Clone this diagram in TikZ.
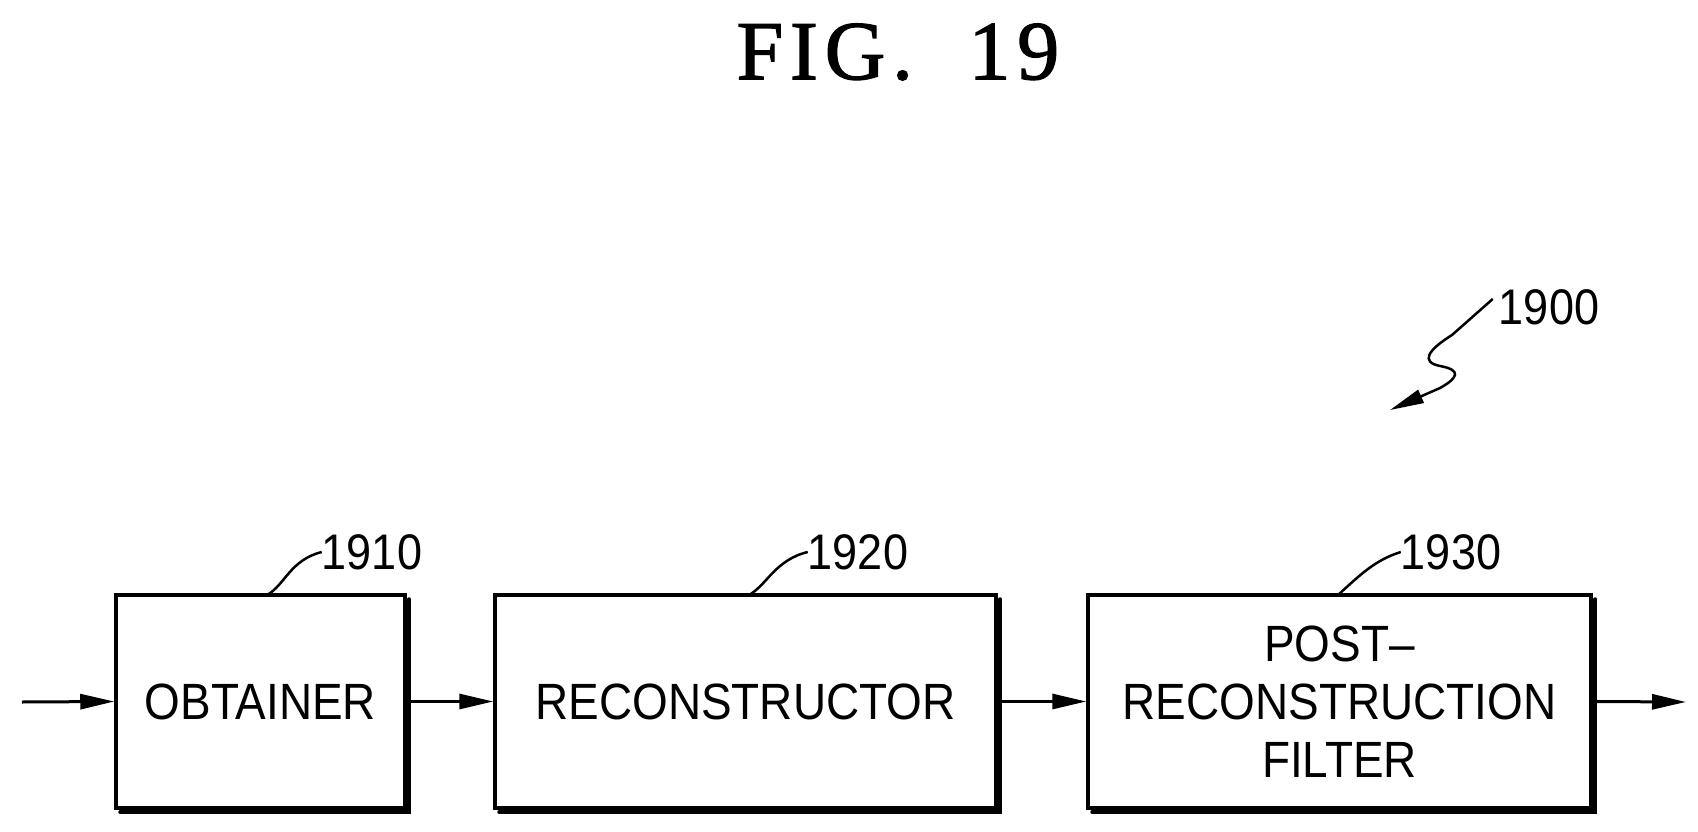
\documentclass[tikz,border=0pt]{standalone}
\usepackage{fontspec}
\setmainfont{Liberation Serif}
\newfontfamily\boxfont[FakeStretch=0.9]{Liberation Sans}
\usetikzlibrary{arrows.meta}
\begin{document}
\begin{tikzpicture}[x=1pt,y=-1pt,
  blk/.style={draw,line width=3.5pt,minimum height=213pt,inner sep=0pt,align=center,font=\boxfont\fontsize{51}{58}\selectfont},
  lbl/.style={font=\boxfont\fontsize{50}{58}\selectfont,inner sep=0pt},
  flow/.style={line width=3pt,-{Stealth[length=34pt,width=15pt,inset=0pt]}},
  lead/.style={line width=2.5pt}]
\useasboundingbox (0,0) rectangle (1698,832);
\node[font=\fontsize{84}{90}\selectfont\addfontfeature{LetterSpace=8,FakeBold=1.5}] (title) at (898,52) {FIG.\ \ 19};
\node[blk,minimum width=289pt] (b1) at (260.5,701.5) {OBTAINER};
\node[blk,minimum width=501pt] (b2) at (745.5,701.5) {RECONSTRUCTOR};
\node[blk,minimum width=503pt] (b3) at (1339.5,701.5) {POST–\\RECONSTRUCTION\\FILTER};
% shadows
\foreach \b in {b1,b2,b3}{
  \draw[line width=4pt,line cap=round] ([xshift=2.5pt,yshift=-6pt]\b.north east) -- ([xshift=2.5pt,yshift=-2.5pt]\b.south east) -- ([xshift=6pt,yshift=-2.5pt]\b.south west);}
\coordinate (in) at (22,702);
\coordinate (out) at (1686,702);
\draw[flow] (in) -- (b1.west);
\draw[flow] ([xshift=4pt]b1.east) -- (b2.west);
\draw[flow] ([xshift=4pt]b2.east) -- (b3.west);
\draw[flow] ([xshift=4pt]b3.east) -- (out);
\node[lbl] (l1) at (372,552) {1910};
\node[lbl] (l2) at (858,552) {1920};
\node[lbl] (l3) at (1451,552) {1930};
\node[lbl] (l0) at (1549,307) {1900};
\draw[lead] (267,595) .. controls (285,585) and (290,560) .. (l1.west);
\draw[lead] (749,595) .. controls (767,585) and (775,560) .. (l2.west);
\draw[lead] (1338,595) .. controls (1360,575) and (1375,560) .. (l3.west);
\coordinate (tip) at (1390,410);
\draw[lead,-{Stealth[length=34pt,width=14pt,inset=0pt]}] ([xshift=-6pt,yshift=8pt]l0.west) -- (1452,335)
  .. controls (1428,350) and (1420,362) .. (1440,366)
  .. controls (1462,370) and (1458,378) .. (1440,388) -- (tip);
\end{tikzpicture}
\end{document}
